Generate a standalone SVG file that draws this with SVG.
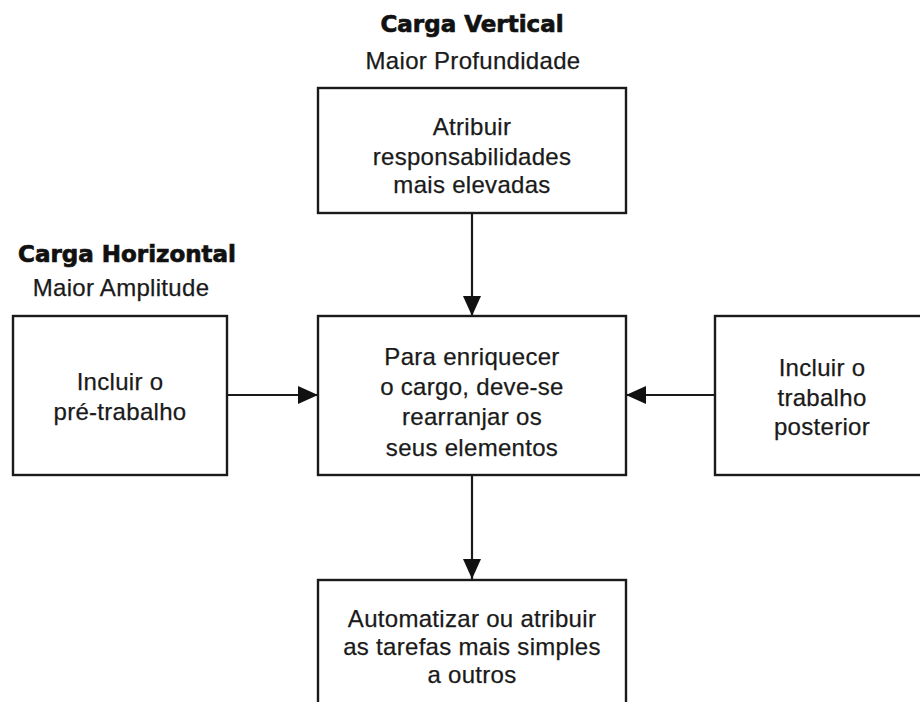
<svg xmlns="http://www.w3.org/2000/svg" width="920" height="702" viewBox="0 0 920 702">
<style>
.box{fill:#fff;stroke:#1a1a1a;stroke-width:2.4}
.t{font-family:"Liberation Sans",Arial,sans-serif;font-size:24px;letter-spacing:0.3px;fill:#1a1a1a;stroke:#1a1a1a;stroke-width:0.25;text-anchor:middle}
.h{font-family:"DejaVu Sans","Liberation Sans",sans-serif;font-weight:bold;font-size:23px;fill:#111;stroke:#111;stroke-width:0.7;text-anchor:middle}
.c{stroke:#1a1a1a;stroke-width:2.2;fill:none;marker-end:url(#ah)}
</style>
<defs>
<marker id="ah" viewBox="0 0 20 18" refX="20" refY="9" markerWidth="20" markerHeight="18" markerUnits="userSpaceOnUse" orient="auto">
<path d="M0,0 L20,9 L0,18 Z" fill="#111"/>
</marker>
</defs>
<rect width="920" height="702" fill="#fff"/>
<g id="label-vertical">
<text class="h" x="472" y="32">Carga Vertical</text>
<text class="t" x="473" y="69">Maior Profundidade</text>
</g>
<g id="label-horizontal">
<text class="h" x="127" y="262">Carga Horizontal</text>
<text class="t" x="121" y="296">Maior Amplitude</text>
</g>
<g id="connectors">
<line class="c" x1="472" y1="213" x2="472" y2="316"/>
<line class="c" x1="227" y1="395" x2="318" y2="395"/>
<line class="c" x1="715" y1="395" x2="626" y2="395"/>
<line class="c" x1="472" y1="475" x2="472" y2="579"/>
</g>
<g id="top">
<rect class="box" x="318" y="88" width="308" height="125"/>
<text class="t" x="472" y="135">Atribuir</text>
<text class="t" x="472" y="165">responsabilidades</text>
<text class="t" x="472" y="193">mais elevadas</text>
</g>
<g id="left">
<rect class="box" x="13" y="316" width="214" height="159"/>
<text class="t" x="120" y="390">Incluir o</text>
<text class="t" x="120" y="420">pré-trabalho</text>
</g>
<g id="center">
<rect class="box" x="318" y="316" width="308" height="159"/>
<text class="t" x="472" y="365">Para enriquecer</text>
<text class="t" x="472" y="395">o cargo, deve-se</text>
<text class="t" x="472" y="425">rearranjar os</text>
<text class="t" x="472" y="456">seus elementos</text>
</g>
<g id="right">
<rect class="box" x="715" y="316" width="220" height="159"/>
<text class="t" x="822" y="376">Incluir o</text>
<text class="t" x="822" y="406">trabalho</text>
<text class="t" x="822" y="435">posterior</text>
</g>
<g id="bottom">
<rect class="box" x="318" y="580" width="308" height="140"/>
<text class="t" x="472" y="627">Automatizar ou atribuir</text>
<text class="t" x="472" y="655">as tarefas mais simples</text>
<text class="t" x="472" y="683">a outros</text>
</g>
</svg>
